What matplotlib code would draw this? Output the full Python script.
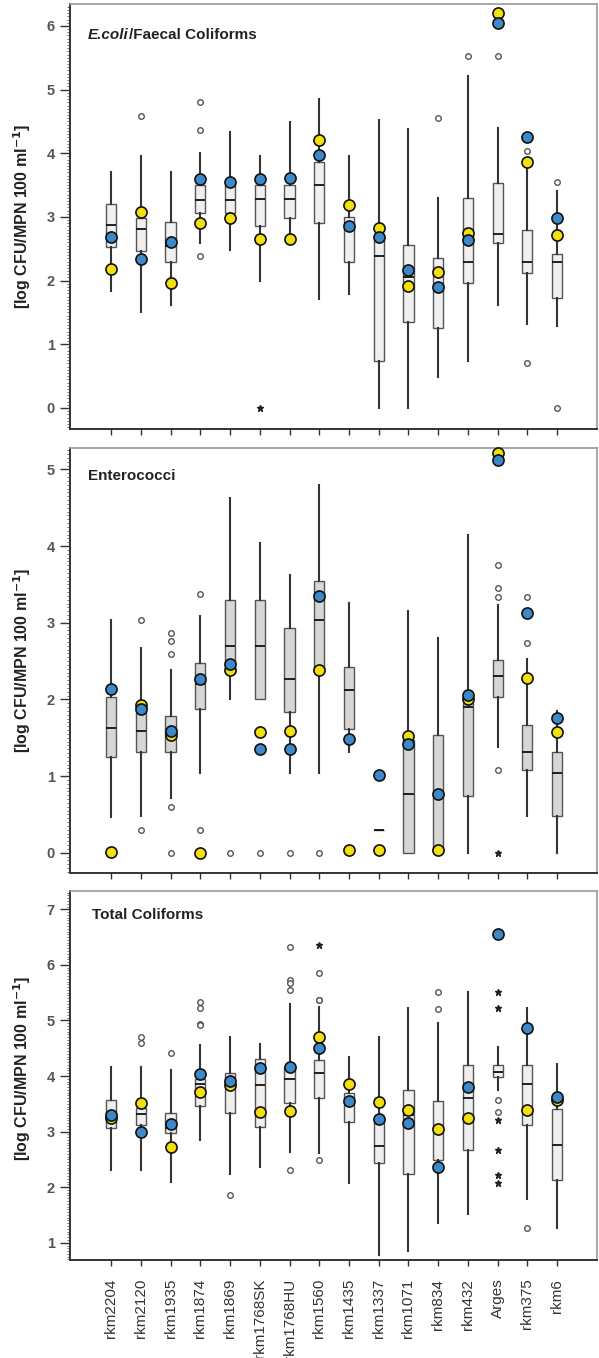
import numpy as np
import matplotlib
matplotlib.use("Agg")
import matplotlib.pyplot as plt
from matplotlib.ticker import MultipleLocator

plt.rcParams['font.family'] = ['Liberation Sans', 'DejaVu Sans']

sites = ["rkm2204", "rkm2120", "rkm1935", "rkm1874", "rkm1869", "rkm1768SK",
         "rkm1768HU", "rkm1560", "rkm1435", "rkm1337", "rkm1071", "rkm834",
         "rkm432", "Arges", "rkm375", "rkm6"]

# ---- E.coli / Faecal Coliforms ----
ec_whislo = [1.84, 1.50, 1.61, 2.59, 2.48, 2.00, 2.65, 1.71, 1.79, 0.00, 0.00, 0.48, 0.74, 1.61, 1.32, 1.28]
ec_q1     = [2.53, 2.46, 2.30, 3.06, 3.06, 2.85, 2.98, 2.91, 2.30, 0.74, 1.35, 1.25, 1.97, 2.59, 2.12, 1.73]
ec_med    = [2.87, 2.81, 2.55, 3.27, 3.27, 3.28, 3.28, 3.50, 2.90, 2.39, 2.05, 2.10, 2.30, 2.73, 2.30, 2.30]
ec_q3     = [3.20, 2.98, 2.92, 3.50, 3.50, 3.50, 3.50, 3.87, 3.00, 2.64, 2.56, 2.35, 3.30, 3.53, 2.79, 2.42]
ec_whishi = [3.70, 3.96, 3.71, 4.00, 4.33, 3.95, 4.49, 4.86, 3.96, 4.53, 4.38, 3.30, 5.21, 4.39, 3.79, 3.40]
ec_blue   = [2.69, 2.34, 2.60, 3.60, 3.55, 3.60, 3.61, 3.97, 2.86, 2.69, 2.16, 1.90, 2.64, 6.04, 4.25, 2.98]
ec_yellow = [2.18, 3.07, 1.96, 2.91, 2.98, 2.65, 2.65, 4.21, 3.18, 2.82, 1.92, 2.14, 2.75, 6.20, 3.86, 2.72]
ec_out = {1: [4.58], 3: [4.80, 4.37, 2.38], 11: [4.55], 12: [5.52], 13: [5.52],
          14: [4.04, 0.70], 15: [3.55, 0.0]}
ec_star = {5: [0.0]}

# ---- Enterococci ----
en_whislo = [0.47, 0.48, 0.71, 1.04, 2.00, 2.00, 1.04, 1.04, 1.32, 0.30, 0.00, 0.00, 0.00, 1.38, 0.48, 0.00]
en_q1     = [1.25, 1.32, 1.32, 1.88, 2.35, 2.00, 1.84, 2.40, 1.62, 0.30, 0.00, 0.00, 0.74, 2.03, 1.08, 0.48]
en_med    = [1.63, 1.59, 1.55, 2.20, 2.70, 2.70, 2.27, 3.03, 2.12, 0.30, 0.76, 0.00, 1.90, 2.30, 1.32, 1.04]
en_q3     = [2.03, 1.90, 1.79, 2.47, 3.30, 3.30, 2.93, 3.54, 2.42, 0.30, 1.47, 1.53, 1.95, 2.51, 1.66, 1.32]
en_whishi = [3.04, 2.67, 2.39, 3.09, 4.63, 4.04, 3.62, 4.80, 3.26, 0.30, 3.15, 2.80, 4.14, 3.23, 2.53, 1.85]
en_blue   = [2.14, 1.87, 1.59, 2.27, 2.46, 1.35, 1.35, 3.35, 1.49, 1.02, 1.42, 0.77, 2.06, 5.12, 3.13, 1.76]
en_yellow = [0.01, 1.93, 1.53, 0.00, 2.38, 1.58, 1.59, 2.39, 0.04, 0.04, 1.52, 0.04, 2.00, 5.22, 2.28, 1.57]
en_out = {1: [3.04, 0.30], 2: [2.87, 2.76, 2.59, 0.60, 0.0], 3: [3.38, 0.30, 0.0], 4: [0.0],
          5: [0.0], 6: [0.0], 7: [0.0], 13: [3.75, 3.46, 3.33, 1.08], 14: [3.34, 2.73]}
en_star = {13: [0.0]}

# ---- Total Coliforms ----
tc_whislo = [2.31, 2.31, 2.10, 2.85, 2.24, 2.37, 2.64, 2.61, 2.08, 0.78, 0.85, 1.35, 1.52, 3.74, 1.78, 1.27]
tc_q1     = [3.06, 3.12, 2.97, 3.46, 3.33, 3.08, 3.52, 3.60, 3.18, 2.43, 2.24, 2.49, 2.66, 3.98, 3.12, 2.13]
tc_med    = [3.25, 3.32, 3.06, 3.85, 3.85, 3.84, 3.94, 4.05, 3.55, 2.74, 3.30, 3.00, 3.60, 4.08, 3.86, 2.76]
tc_q3     = [3.57, 3.42, 3.33, 3.94, 4.06, 4.31, 4.17, 4.28, 3.69, 3.25, 3.74, 3.55, 4.20, 4.20, 4.20, 3.40]
tc_whishi = [4.17, 4.17, 4.10, 4.56, 4.71, 4.58, 5.30, 5.25, 4.35, 4.71, 5.22, 4.96, 5.52, 4.53, 5.22, 4.22]
tc_blue   = [3.30, 2.99, 3.13, 4.03, 3.91, 4.15, 4.17, 4.50, 3.55, 3.22, 3.16, 2.36, 3.81, 6.55, 4.87, 3.63]
tc_yellow = [3.24, 3.52, 2.73, 3.72, 3.84, 3.35, 3.37, 4.71, 3.85, 3.54, 3.38, 3.05, 3.24, np.nan, 3.39, 3.57]
tc_out = {1: [4.70, 4.60], 2: [4.41], 3: [5.34, 5.22, 4.94, 4.91], 4: [1.86],
          6: [6.32, 5.73, 5.67, 5.55, 2.31], 7: [5.86, 5.37, 5.36, 2.49], 11: [5.52, 5.21],
          13: [3.57, 3.36], 14: [1.27]}
tc_star = {7: [6.36], 13: [5.52, 5.22, 3.21, 2.66, 2.22, 2.08]}

panels = [
    dict(stats=(ec_whislo, ec_q1, ec_med, ec_q3, ec_whishi), blue=ec_blue, yellow=ec_yellow,
         out=ec_out, star=ec_star, ylim=(-0.33, 6.345), yticks=range(0, 7), fill='#f0f0f0',
         rect=[0.1169, 0.6841, 0.8798, 0.3130]),
    dict(stats=(en_whislo, en_q1, en_med, en_q3, en_whishi), blue=en_blue, yellow=en_yellow,
         out=en_out, star=en_star, ylim=(-0.265, 5.28), yticks=range(0, 6), fill='#d6d6d6',
         rect=[0.1169, 0.3571, 0.8798, 0.3130]),
    dict(stats=(tc_whislo, tc_q1, tc_med, tc_q3, tc_whishi), blue=tc_blue, yellow=tc_yellow,
         out=tc_out, star=tc_star, ylim=(0.69, 7.33), yticks=range(1, 8), fill='#efefef',
         rect=[0.1169, 0.0722, 0.8798, 0.2717]),
]

fig = plt.figure(figsize=(5.99, 13.58), dpi=100)
pos = np.arange(len(sites))
axes = []
for p in panels:
    ax = fig.add_axes(p['rect'])
    axes.append(ax)
    wl, q1, md, q3, wh = p['stats']
    bstats = [dict(whislo=wl[i], q1=q1[i], med=md[i], q3=q3[i], whishi=wh[i], fliers=[])
              for i in range(len(sites))]
    ax.bxp(bstats, positions=pos, widths=0.34, showfliers=False, showcaps=False,
           patch_artist=True, manage_ticks=False,
           boxprops=dict(facecolor=p['fill'], edgecolor='#555555', linewidth=1.0),
           medianprops=dict(color='#111111', linewidth=1.3),
           whiskerprops=dict(color='#333333', linewidth=1.5), zorder=2)
    for i, vals in p['out'].items():
        ax.plot([pos[i]] * len(vals), vals, 'o', ms=4, mfc='white', mec='#555555',
                mew=1.0, zorder=3, clip_on=False)
    for i, vals in p['star'].items():
        ax.plot([pos[i]] * len(vals), vals, '*', ms=4.5, color='#222222', zorder=3,
                clip_on=False)
    ax.plot(pos, p['yellow'], 'o', ms=8, mfc='#f2e00a', mec='#111111', mew=1.2,
            zorder=4, ls='none', clip_on=False)
    ax.plot(pos, p['blue'], 'o', ms=8, mfc='#3d88c9', mec='#111111', mew=1.2,
            zorder=5, ls='none', clip_on=False)

    ax.set_xlim(-1.38, 16.34)
    ax.set_ylim(*p['ylim'])
    ax.set_yticks(list(p['yticks']))
    ax.yaxis.set_minor_locator(MultipleLocator(0.05))
    ax.set_xticks(pos)
    ax.tick_params(axis='y', which='major', length=7, width=1.0, color='#333333',
                   labelsize=10.5, labelcolor='#555555', pad=4)
    ax.tick_params(axis='y', which='minor', length=2.5, width=0.6, color='#555555')
    ax.tick_params(axis='x', which='major', length=4.5, width=1.0, color='#333333', pad=9)
    for lab in ax.get_yticklabels():
        lab.set_fontweight('bold')
    for s in ['left', 'bottom']:
        ax.spines[s].set_color('#333333')
        ax.spines[s].set_linewidth(1.4)
    for s in ['top', 'right']:
        ax.spines[s].set_color('#999999')
        ax.spines[s].set_linewidth(1.2)
    ax.set_ylabel('[log CFU/MPN 100 ml$^{\\mathbf{-1}}$]', fontsize=11.5,
                  fontweight='bold', color='#222222')
    ax.yaxis.set_label_coords(-0.07, 0.5)

axes[0].set_xticklabels([])
axes[1].set_xticklabels([])
axes[2].set_xticklabels(sites, rotation=90, fontsize=11, color='#333333')
axes[2].yaxis.set_label_coords(-0.07, 0.52)

# panel titles
t1 = axes[0].text(0.034, 0.918, 'E.coli', transform=axes[0].transAxes, fontsize=11,
                  fontweight='bold', fontstyle='italic', color='#222222', va='baseline')
axes[0].annotate('/Faecal Coliforms', xy=(1, 0), xycoords=t1, fontsize=11,
                 fontweight='bold', color='#222222', va='bottom')
axes[1].text(0.034, 0.935, 'Enterococci', transform=axes[1].transAxes, fontsize=11,
             fontweight='bold', color='#222222', va='center')
axes[2].text(0.042, 0.935, 'Total Coliforms', transform=axes[2].transAxes, fontsize=11,
             fontweight='bold', color='#222222', va='center')

fig.savefig('out.png', dpi=100)
